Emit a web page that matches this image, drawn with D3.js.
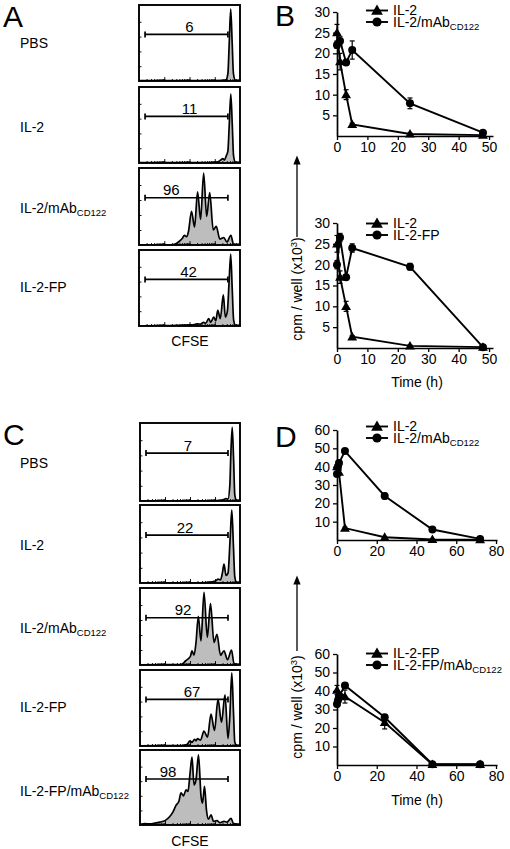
<!DOCTYPE html>
<html><head><meta charset="utf-8">
<script src="https://cdn.jsdelivr.net/npm/d3@7"></script>
<style>
body{margin:0;background:#fff}
svg text{font-family:"Liberation Sans",Arial,Helvetica,sans-serif;fill:#000}
</style>
</head><body>
<svg id="c" width="510" height="849"></svg>
<script>
// ---------------- DATA ----------------
// Panel A: CFSE histograms (x = % of CFSE axis, y = % of max count)
const groupsA = ["PBS", "IL-2", "IL-2/mAb_CD122", "IL-2-FP"];
const pctA = ["6", "11", "96", "42"];
const histA_PBS = [[0,0.4],[60,0.4],[83,1],[86,1.5],[88,10],[89.3,50],[90.8,97],[92.3,50],[93.5,10],[95.5,1],[100,0.4]];
const histA_IL2 = [[0,0.4],[70,0.4],[78,1.5],[81,4],[83,6],[84.5,4],[86.5,10],[88,16],[89.3,50],[90.9,93],[92.4,50],[93.6,10],[95.5,1],[100,0.4]];
const histA_mAb = [[0,0.3],[33,0.3],[37,2],[40,5],[43,9],[45,13],[47,11],[49,18],[52,45],[55,24],[58,71],[61,34],[64,96],[67,38],[70,70],[73.5,20],[76.5,25],[80,8],[84,10],[87,4],[91,13],[93.5,1],[100,0.3]];
const histA_FP = [[0,0.3],[30,0.5],[40,1],[50,1.5],[55,2],[58,3],[61,2.5],[64,5],[66,3.5],[69,10],[71,5],[74,12],[76,7],[78,21],[80.5,10],[83.5,42],[85.5,12],[87.5,20],[89.2,60],[90.8,97],[92.3,50],[93.7,8],[95.5,1],[100,0.3]];
const histsA = [histA_PBS, histA_IL2, histA_mAb, histA_FP];

// Panel C
const groupsC = ["PBS", "IL-2", "IL-2/mAb_CD122", "IL-2-FP", "IL-2-FP/mAb_CD122"];
const pctC = ["7", "22", "92", "67", "98"];
const histC_PBS = [[0,0.3],[70,0.3],[83,1.5],[86,3],[88,2.5],[89.8,20],[90.8,60],[92.2,97],[93.6,55],[94.8,8],[96.5,1],[100,0.3]];
const histC_IL2 = [[0,0.3],[60,0.3],[72,1.5],[76,3],[78,5],[80.5,4],[82.5,14],[84,25],[86,10],[88,13],[90.2,60],[91.8,96],[93.4,50],[94.8,8],[96.5,1],[100,0.3]];
const histC_mAb = [[0,0.3],[40,0.5],[43,2],[46,6],[48,8],[50.5,12],[52,19],[54,13],[56,30],[58.3,65],[61,32],[64,97],[67.3,37],[70.5,82],[74,30],[77,41],[80.5,13],[84,19],[87.5,7],[91.5,20],[94,2],[100,0.3]];
const histC_FP = [[0,0.3],[40,0.5],[44,1],[47,2],[50,7],[52,5],[54.5,9],[56,7],[57.5,10],[60.5,8],[64,20],[67.5,12],[71,43],[74.5,21],[78,63],[81.5,32],[85,69],[88,10],[89.8,40],[91.8,99],[93.5,45],[94.8,5],[96.5,1],[100,0.3]];
const histC_FPmAb = [[0,1],[5,2],[10,1.5],[15,2.5],[20,4],[25,6],[30,12],[33,18],[36,27],[39,33],[41,44],[43.5,40],[46,48],[48,46],[50,70],[52,93],[54,55],[56,62],[58.5,96],[61,40],[62.5,30],[64.5,53],[66.5,20],[68.5,8],[71,14],[73.5,5],[77,6],[80,3],[84,5],[87,4],[91,9],[93.5,2],[100,0.5]];
const histsC = [histC_PBS, histC_IL2, histC_mAb, histC_FP, histC_FPmAb];

// Panel B (time in h, cpm/well x10^3)
const timeB_IL2 = [0, 1, 3, 5, 24, 48];
const valB1_IL2 = [25, 18, 10, 2.8, 0.5, 0.2];
const errB1_IL2 = [2, 2, 1.2, 0.3, 0.2, 0];
const timeB_mAb = [0, 1, 3, 5, 24, 48];
const valB1_mAb = [22, 23, 17.8, 20.8, 7.9, 0.8];
const errB1_mAb = [0.8, 1, 0.5, 2.2, 1.3, 0.3];
const valB2_IL2 = [25, 17, 10, 2.7, 0.5, 0.2];
const errB2_IL2 = [2, 1.5, 1.2, 0.3, 0.2, 0];
const timeB_FP = [0, 1, 3, 5, 24, 48];
const valB2_FP = [20, 26.5, 17, 24, 19.5, 0.2];
const errB2_FP = [1, 1, 0.5, 1, 0.8, 0.1];
const xTicksB = [0, 10, 20, 30, 40, 50];
const yTicksB = [5, 10, 15, 20, 25, 30];

// Panel D
const timeD_IL2 = [0, 1, 4, 24, 48, 72];
const valD1_IL2 = [40, 37, 6.5, 1.5, 0.3, 0.2];
const errD1_IL2 = [1, 1, 0.5, 0.3, 0.1, 0.1];
const timeD_mAb = [0, 0.5, 1, 4, 24, 48, 72];
const valD1_mAb = [36, 40, 42, 48.5, 24, 5.7, 0.6];
const errD1_mAb = [1, 1, 1, 1, 1.5, 0.5, 0.2];
const timeD_FP = [0, 4, 24, 48, 72];
const valD2_FP = [40.5, 37, 23, 0.3, 0.3];
const errD2_FP = [2.5, 3.5, 3.5, 0.3, 0.2];
const timeD_FPmAb = [0, 0.5, 1, 4, 24, 48, 72];
const valD2_FPmAb = [33, 35, 37, 43, 25.8, 0.4, 0.4];
const errD2_FPmAb = [1.5, 1, 1, 1.2, 1.5, 0.2, 0.2];
const xTicksD = [0, 20, 40, 60, 80];
const yTicksD = [10, 20, 30, 40, 50, 60];

// ---------------- DRAWING ----------------
const svg = d3.select("#c");
const FS = 14;

function addLabel(sel, str, fs, subFs) {
  const parts = str.split("_");
  sel.text(null);
  sel.append("tspan").text(parts[0]);
  if (parts[1]) {
    sel.append("tspan").attr("font-size", subFs).attr("dy", 3).text(parts[1]);
  }
  return sel;
}

// Panel letters
[["A",3,27],["B",275,26],["C",3,445],["D",275,447]].forEach(([t,x,y]) =>
  svg.append("text").attr("x",x).attr("y",y).attr("font-size",30).text(t));

let clipId = 0;
function drawHist(box, data, label, pct, pctX, labelY) {
  const g = svg.append("g");
  const hx = d3.scaleLinear().domain([0,100]).range([box.x0, box.x1]);
  const hy = d3.scaleLinear().domain([0,100]).range([box.y1, box.y0 + 2]);
  const id = "clip" + (clipId++);
  g.append("clipPath").attr("id", id).append("rect")
    .attr("x", box.x0).attr("y", box.y0).attr("width", box.x1 - box.x0).attr("height", box.y1 - box.y0);
  const area = d3.area().x(d => hx(d[0])).y0(hy(0)).y1(d => hy(d[1])).curve(d3.curveMonotoneX);
  const line = d3.line().x(d => hx(d[0])).y(d => hy(d[1])).curve(d3.curveMonotoneX);
  const inner = g.append("g").attr("clip-path", `url(#${id})`);
  inner.append("path").datum(data).attr("d", area).attr("fill", "#bdbdbd");
  inner.append("path").datum(data).attr("d", line).attr("fill", "none").attr("stroke", "#000").attr("stroke-width", 1.7);
  // log CFSE ticks on bottom, pointing inward
  const lx = d3.scaleLog().domain([1, 1e4]).range([box.x0, box.x1]);
  const minor = g.append("g").attr("transform", `translate(0,${box.y1})`)
    .call(d3.axisBottom(lx).tickSize(-2).tickFormat(""));
  minor.select(".domain").remove();
  const major = g.append("g").attr("transform", `translate(0,${box.y1})`)
    .call(d3.axisBottom(lx).tickValues([10, 100, 1000]).tickSize(-4).tickFormat(""));
  major.select(".domain").remove();
  const left = g.append("g").attr("transform", `translate(${box.x0},0)`)
    .call(d3.axisLeft(hy).tickValues([20, 40, 60, 80]).tickSize(-2.5).tickFormat(""));
  left.select(".domain").remove();
  g.selectAll(".tick line").attr("stroke", "#000").attr("stroke-width", 0.9);
  // frame
  g.append("rect").attr("x", box.x0).attr("y", box.y0).attr("width", box.x1 - box.x0).attr("height", box.y1 - box.y0)
    .attr("fill", "none").attr("stroke", "#000").attr("stroke-width", 1.9);
  // gate
  const gy = hy(63);
  const gx0 = hx(6), gx1 = hx(88);
  g.append("line").attr("x1", gx0).attr("x2", gx1).attr("y1", gy).attr("y2", gy).attr("stroke", "#000").attr("stroke-width", 1.7);
  [gx0, gx1].forEach(x => g.append("line").attr("x1", x).attr("x2", x).attr("y1", gy - 3).attr("y2", gy + 3).attr("stroke", "#000").attr("stroke-width", 1.7));
  g.append("text").attr("x", hx(pctX)).attr("y", gy - 2.5).attr("text-anchor", "middle").attr("font-size", 15).text(pct);
  // group label
  addLabel(svg.append("text").attr("x", 20).attr("y", labelY).attr("font-size", FS), label, FS, 9.5);
}

const boxesA = [[5,81],[87,163],[168,245],[250,326]];
const labelYA = [48, 132, 213, 292];
const pctXA = [50, 50, 32, 49];
boxesA.forEach((b, i) => drawHist({x0:139, x1:240, y0:b[0], y1:b[1]}, histsA[i], groupsA[i], pctA[i], pctXA[i], labelYA[i]));
svg.append("text").attr("x", 190).attr("y", 346).attr("text-anchor","middle").attr("font-size", FS).text("CFSE");

const boxesC = [[423,501],[505,583],[588,665],[670,746],[750,825]];
const labelYC = [468, 550, 633, 712, 796];
const pctXC = [48, 45, 43, 52, 28];
boxesC.forEach((b, i) => drawHist({x0:140, x1:240, y0:b[0], y1:b[1]}, histsC[i], groupsC[i], pctC[i], pctXC[i], labelYC[i]));
svg.append("text").attr("x", 190).attr("y", 846).attr("text-anchor","middle").attr("font-size", FS).text("CFSE");

// Time course
function marker(g, type, x, y, big) {
  if (type === "tri") {
    g.append("path").attr("d", d3.symbol(d3.symbolTriangle).size(big ? 60 : 42)()).attr("transform", `translate(${x},${y + 0.8})`).attr("fill", "#000");
  } else {
    g.append("circle").attr("cx", x).attr("cy", y).attr("r", big ? 4.6 : 4).attr("fill", "#000");
  }
}

function drawTC(cfg) {
  const g = svg.append("g");
  const x = d3.scaleLinear().domain(cfg.xDom).range(cfg.xRange);
  const y = d3.scaleLinear().domain(cfg.yDom).range(cfg.yRange);
  const xa = g.append("g").attr("transform", `translate(0,${cfg.yRange[0]})`)
    .call(d3.axisBottom(x).tickValues(cfg.xTicks).tickSize(4).tickSizeOuter(0).tickPadding(2));
  const ya = g.append("g").attr("transform", `translate(${cfg.xRange[0]},0)`)
    .call(d3.axisLeft(y).tickValues(cfg.yTicks).tickSize(4).tickSizeOuter(0).tickPadding(3));
  [xa, ya].forEach(a => {
    a.selectAll("text").attr("font-size", FS).attr("font-family", "Liberation Sans, Arial, sans-serif").attr("fill", "#000");
    a.selectAll("line").attr("stroke", "#000").attr("stroke-width", 1.3);
    a.select(".domain").attr("stroke", "#000").attr("stroke-width", 1.7);
  });
  cfg.series.forEach(s => {
    const pts = s.t.map((t, i) => [t, s.v[i], s.e[i]]);
    g.append("path").datum(pts).attr("d", d3.line().x(d => x(d[0])).y(d => y(d[1])))
      .attr("fill", "none").attr("stroke", "#000").attr("stroke-width", 1.9);
    pts.forEach(d => {
      if (d[2] > 0) {
        const px = x(d[0]), yt = y(d[1] + d[2]), yb = y(Math.max(0, d[1] - d[2]));
        g.append("line").attr("x1", px).attr("x2", px).attr("y1", yt).attr("y2", yb).attr("stroke", "#000").attr("stroke-width", 1.2);
        [yt, yb].forEach(yy => g.append("line").attr("x1", px - 2.5).attr("x2", px + 2.5).attr("y1", yy).attr("y2", yy).attr("stroke", "#000").attr("stroke-width", 1.2));
      }
      marker(g, s.marker, x(d[0]), y(d[1]), false);
    });
  });
  // legend
  cfg.series.forEach((s, i) => {
    const ly = cfg.legY + i * 11.5;
    g.append("line").attr("x1", 366).attr("x2", 388).attr("y1", ly).attr("y2", ly).attr("stroke", "#000").attr("stroke-width", 1.9);
    marker(g, s.marker, 377, ly, true);
    addLabel(g.append("text").attr("x", 393).attr("y", ly + 4.8).attr("font-size", FS), s.name, FS, 9.5);
  });
}

drawTC({xDom:[0,51.3], xRange:[337,493], yDom:[0,30], yRange:[136,12], xTicks:xTicksB, yTicks:yTicksB, legY:10.5,
  series:[{name:"IL-2", marker:"tri", t:timeB_IL2, v:valB1_IL2, e:errB1_IL2},
          {name:"IL-2/mAb_CD122", marker:"circ", t:timeB_mAb, v:valB1_mAb, e:errB1_mAb}]});
drawTC({xDom:[0,51.3], xRange:[337,493], yDom:[0,30], yRange:[348,223], xTicks:xTicksB, yTicks:yTicksB, legY:223.5,
  series:[{name:"IL-2", marker:"tri", t:timeB_IL2, v:valB2_IL2, e:errB2_IL2},
          {name:"IL-2-FP", marker:"circ", t:timeB_FP, v:valB2_FP, e:errB2_FP}]});
drawTC({xDom:[0,80.5], xRange:[337,497], yDom:[0,60], yRange:[540,430], xTicks:xTicksD, yTicks:yTicksD, legY:426.5,
  series:[{name:"IL-2", marker:"tri", t:timeD_IL2, v:valD1_IL2, e:errD1_IL2},
          {name:"IL-2/mAb_CD122", marker:"circ", t:timeD_mAb, v:valD1_mAb, e:errD1_mAb}]});
drawTC({xDom:[0,80.5], xRange:[337,497], yDom:[0,60], yRange:[765,654], xTicks:xTicksD, yTicks:yTicksD, legY:653.5,
  series:[{name:"IL-2-FP", marker:"tri", t:timeD_FP, v:valD2_FP, e:errD2_FP},
          {name:"IL-2-FP/mAb_CD122", marker:"circ", t:timeD_FPmAb, v:valD2_FPmAb, e:errD2_FPmAb}]});

// Time labels
svg.append("text").attr("x", 417).attr("y", 387).attr("text-anchor","middle").attr("font-size", FS).text("Time (h)");
svg.append("text").attr("x", 417).attr("y", 805).attr("text-anchor","middle").attr("font-size", FS).text("Time (h)");

// Y-axis labels with arrows
const defs = svg.append("defs");
defs.append("marker").attr("id","arr").attr("viewBox","0 0 10 10").attr("refX",5).attr("refY",5)
  .attr("markerWidth",7).attr("markerHeight",7).attr("orient","auto")
  .append("path").attr("d","M0,1 L10,5 L0,9 Z").attr("fill","#000");
function yLabel(cx, cy, arrowTop, arrowBottom) {
  svg.append("line").attr("x1", cx - 1).attr("x2", cx - 1).attr("y1", arrowBottom).attr("y2", arrowTop + 3)
    .attr("stroke", "#000").attr("stroke-width", 1.3).attr("marker-end", "url(#arr)");
  const t = svg.append("text").attr("transform", `translate(${cx + 4},${cy}) rotate(-90)`).attr("text-anchor", "middle").attr("font-size", FS);
  t.append("tspan").text("cpm / well (x10");
  t.append("tspan").attr("font-size", 9.5).attr("dy", -5).text("3");
  t.append("tspan").attr("dy", 5).text(")");
}
yLabel(298, 289, 157, 237);
yLabel(298, 707, 577, 651);
</script>
</body></html>
